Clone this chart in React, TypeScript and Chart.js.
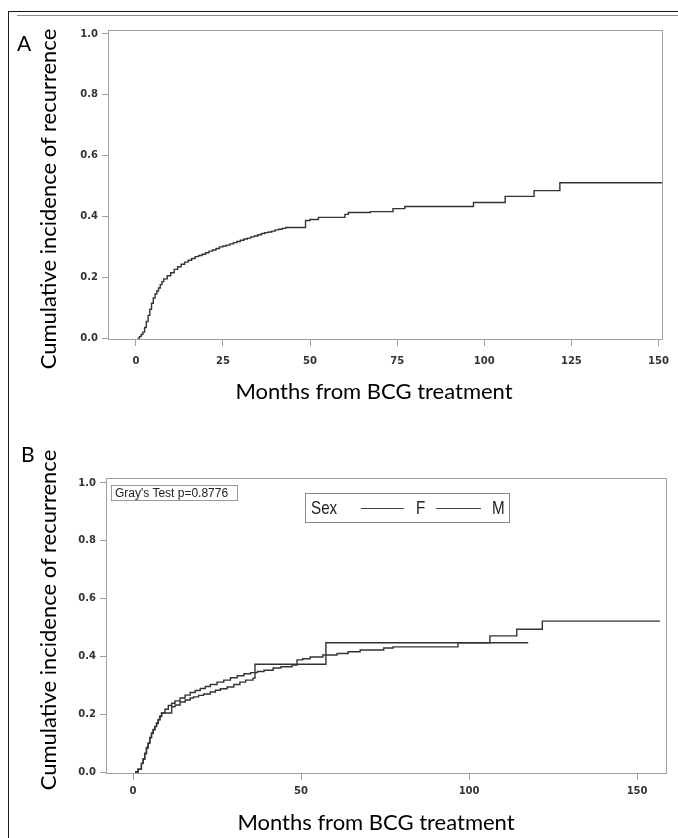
import React, { useEffect, useRef } from "react";
import { Chart, registerables } from "chart.js";

Chart.register(...registerables);

// ---------- data ----------
const yTickValues = [0, 0.2, 0.4, 0.6, 0.8, 1.0];
const panelAXTickValues = [0, 25, 50, 75, 100, 125, 150];
const panelBXTickValues = [0, 50, 100, 150];

const yAxisTitle = "Cumulative incidence of recurrence";
const xAxisTitle = "Months from BCG treatment";
const grayTestLabel = "Gray's Test p=0.8776";
const legendTitle = "Sex";
const seriesNames = ["F", "M"];

// Panel A: all patients
const allMonths = [0.5, 1, 1.5, 2, 2.5, 3, 3.5, 4, 4.5, 5, 5.5, 6, 6.5, 7, 7.5, 8, 9, 10, 11, 12, 13, 14, 15, 16, 17, 18, 19, 20, 21, 22, 23, 24, 25, 26, 27, 28, 29, 30, 31, 32, 33, 34, 35, 36, 37, 38, 39, 40, 41, 42, 43, 48.7, 50, 52.4, 60, 61, 67.3, 73.8, 77.2, 96.9, 106, 114.3, 121.7, 151];
const allCif = [0, 0.005, 0.012, 0.02, 0.035, 0.055, 0.075, 0.095, 0.115, 0.132, 0.145, 0.155, 0.165, 0.176, 0.186, 0.195, 0.205, 0.215, 0.226, 0.235, 0.243, 0.25, 0.256, 0.262, 0.268, 0.272, 0.276, 0.281, 0.286, 0.29, 0.295, 0.3, 0.303, 0.306, 0.31, 0.314, 0.318, 0.322, 0.326, 0.329, 0.333, 0.336, 0.34, 0.344, 0.347, 0.349, 0.352, 0.356, 0.358, 0.361, 0.364, 0.387, 0.39, 0.397, 0.407, 0.413, 0.416, 0.426, 0.433, 0.446, 0.466, 0.485, 0.511, 0.511];

// Panel B: by sex
const femaleMonths = [0.6, 1.5, 2.5, 3, 3.5, 4, 4.5, 5, 5.5, 6, 6.5, 7, 7.5, 8, 8.5, 11.5, 12.5, 14, 15.5, 17, 18, 19.5, 21, 23, 24.5, 26, 28, 30, 31.8, 33.5, 35.7, 36.3, 57.4, 117.6];
const femaleCif = [0, 0.01, 0.03, 0.045, 0.065, 0.085, 0.1, 0.12, 0.135, 0.147, 0.158, 0.17, 0.182, 0.194, 0.204, 0.226, 0.232, 0.242, 0.249, 0.256, 0.26, 0.265, 0.27, 0.277, 0.283, 0.288, 0.294, 0.303, 0.311, 0.318, 0.325, 0.373, 0.447, 0.447];

const maleMonths = [0.6, 1.5, 2.5, 3, 3.5, 4, 4.5, 5, 5.5, 6, 6.5, 7, 7.5, 8, 8.5, 9.5, 10.5, 11.5, 12.5, 14, 15.5, 17, 18.5, 20, 21.5, 23, 25, 27, 29, 31, 33, 35, 37, 39, 41.7, 44, 47.3, 48.8, 50.5, 52.7, 56.5, 60.7, 64, 67.6, 74.6, 77.4, 96.7, 106.2, 114.2, 121.8, 156.8];
const maleCif = [0, 0.01, 0.03, 0.045, 0.063, 0.083, 0.1, 0.118, 0.133, 0.146, 0.157, 0.168, 0.18, 0.192, 0.204, 0.217, 0.23, 0.238, 0.246, 0.256, 0.266, 0.275, 0.282, 0.289, 0.296, 0.303, 0.311, 0.318, 0.326, 0.333, 0.34, 0.344, 0.348, 0.352, 0.36, 0.364, 0.37, 0.388, 0.392, 0.398, 0.405, 0.41, 0.416, 0.422, 0.429, 0.433, 0.447, 0.471, 0.494, 0.522, 0.522];

// ---------- styling ----------
const LINE_COLOR = "#333333";
const AXIS_COLOR = "#a0a0a0";
const TICK_FONT = { family: "'DejaVu Sans', sans-serif", size: 10, weight: "bold" as const };
const TITLE_FONT = "Lato, 'Open Sans', sans-serif";
const NARROW_FONT = "'Liberation Sans Narrow', 'Liberation Sans', Arial, sans-serif";

const boxPlugin = {
  id: "plotBox",
  afterDatasetsDraw(chart: any) {
    const { ctx, chartArea } = chart;
    const l = Math.round(chartArea.left);
    const t = Math.round(chartArea.top);
    const r = Math.round(chartArea.right);
    const b = Math.round(chartArea.bottom);
    ctx.save();
    ctx.strokeStyle = AXIS_COLOR;
    ctx.lineWidth = 1;
    ctx.strokeRect(l + 0.5, t + 0.5, r - l - 1, b - t - 1);
    ctx.restore();
  },
};

function toPoints(xs: number[], ys: number[]) {
  return xs.map((x, i) => ({ x, y: ys[i] }));
}

type PanelSpec = {
  datasets: { label: string; xs: number[]; ys: number[] }[];
  xTicks: number[];
  xMin: number;
  xMax: number;
  yMin: number;
  yMax: number;
  padTop: number;
  padRight: number;
  padBottom: number;
  yAxisWidth: number;
  xAxisHeight: number;
  xLabelPad: number;
};

function buildConfig(spec: PanelSpec): any {
  return {
    type: "line",
    data: {
      datasets: spec.datasets.map((d) => ({
        label: d.label,
        data: toPoints(d.xs, d.ys),
        borderColor: LINE_COLOR,
        borderWidth: 1.4,
        pointRadius: 0,
        stepped: "before",
        fill: false,
      })),
    },
    options: {
      animation: false,
      responsive: false,
      devicePixelRatio: 1,
      events: [],
      layout: {
        autoPadding: false,
        padding: { left: 0, top: spec.padTop, right: spec.padRight, bottom: spec.padBottom },
      },
      plugins: { legend: { display: false }, tooltip: { enabled: false }, title: { display: false } },
      scales: {
        x: {
          type: "linear",
          min: spec.xMin,
          max: spec.xMax,
          afterBuildTicks: (axis: any) => {
            axis.ticks = spec.xTicks.map((v) => ({ value: v }));
          },
          afterFit: (axis: any) => {
            axis.height = spec.xAxisHeight;
          },
          border: { display: false },
          grid: { drawOnChartArea: false, drawTicks: true, tickLength: 6, color: AXIS_COLOR, lineWidth: 1 },
          ticks: {
            autoSkip: false,
            maxRotation: 0,
            padding: spec.xLabelPad,
            color: "#333",
            font: TICK_FONT,
            callback: (v: any) => String(v),
          },
        },
        y: {
          type: "linear",
          min: spec.yMin,
          max: spec.yMax,
          afterBuildTicks: (axis: any) => {
            axis.ticks = yTickValues.map((v) => ({ value: v }));
          },
          afterFit: (axis: any) => {
            axis.width = spec.yAxisWidth;
          },
          border: { display: false },
          grid: { drawOnChartArea: false, drawTicks: true, tickLength: 6, color: AXIS_COLOR, lineWidth: 1 },
          ticks: {
            autoSkip: false,
            padding: 4,
            color: "#333",
            font: TICK_FONT,
            callback: (v: any) => Number(v).toFixed(1),
          },
        },
      },
    },
    plugins: [boxPlugin],
  };
}

function ChartCanvas(props: { left: number; top: number; width: number; height: number; spec: PanelSpec }) {
  const ref = useRef<HTMLCanvasElement>(null);
  useEffect(() => {
    if (!ref.current) return;
    const chart = new Chart(ref.current, buildConfig(props.spec));
    return () => chart.destroy();
  }, []);
  return (
    <canvas
      ref={ref}
      width={props.width}
      height={props.height}
      style={{ position: "absolute", left: props.left, top: props.top, width: props.width, height: props.height }}
    />
  );
}

const panelA: PanelSpec = {
  datasets: [{ label: "All", xs: allMonths, ys: allCif }],
  xTicks: panelAXTickValues,
  xMin: -8,
  xMax: 151.4,
  yMin: -0.006,
  yMax: 1.013,
  padTop: 9,
  padRight: 11,
  padBottom: 10,
  yAxisWidth: 100,
  xAxisHeight: 60,
  xLabelPad: 9,
};

const panelB: PanelSpec = {
  datasets: [
    { label: seriesNames[0], xs: femaleMonths, ys: femaleCif },
    { label: seriesNames[1], xs: maleMonths, ys: maleCif },
  ],
  xTicks: panelBXTickValues,
  xMin: -8.04,
  xMax: 158.9,
  yMin: -0.0069,
  yMax: 1.0173,
  padTop: 48,
  padRight: 11,
  padBottom: 14,
  yAxisWidth: 98,
  xAxisHeight: 50,
  xLabelPad: 5,
};

function CenteredText(props: { x: number; y: number; text: string; size: number; rotate?: boolean }) {
  return (
    <div
      style={{
        position: "absolute",
        left: props.x,
        top: props.y,
        transform: `translate(-50%, -50%)${props.rotate ? " rotate(-90deg)" : ""}`,
        whiteSpace: "nowrap",
        fontFamily: TITLE_FONT,
        fontSize: props.size,
        lineHeight: 1,
        color: "#000",
      }}
    >
      {props.text}
    </div>
  );
}

function LegendItem(props: { left: number; text: string }) {
  return (
    <span
      style={{
        position: "absolute",
        left: props.left,
        top: 0,
        lineHeight: "28px",
        transform: "scaleX(0.8)",
        transformOrigin: "left center",
      }}
    >
      {props.text}
    </span>
  );
}

function LegendLine(props: { left: number; width: number }) {
  return (
    <span
      style={{
        position: "absolute",
        left: props.left,
        top: 14,
        width: props.width,
        height: 0,
        borderTop: "1px solid #444",
      }}
    />
  );
}

export default function App() {
  return (
    <div
      style={{
        position: "fixed",
        left: 0,
        top: 0,
        width: 678,
        height: 838,
        overflow: "hidden",
        background: "#fff",
      }}
    >
      {/* outer frame */}
      <div style={{ position: "absolute", left: 8, top: 11, width: 670, height: 1, background: "#1a1a1a" }} />
      <div style={{ position: "absolute", left: 8, top: 11, width: 1, height: 827, background: "#1a1a1a" }} />
      <div style={{ position: "absolute", left: 17, top: 15, width: 661, height: 1, background: "#8c8c8c" }} />

      <ChartCanvas left={8} top={20} width={670} height={390} spec={panelA} />
      <ChartCanvas left={8} top={430} width={670} height={408} spec={panelB} />

      {/* panel letters */}
      <div style={{ position: "absolute", left: 17, top: 32, fontFamily: TITLE_FONT, fontSize: 21, lineHeight: "21px", color: "#000" }}>A</div>
      <div style={{ position: "absolute", left: 21, top: 443, fontFamily: TITLE_FONT, fontSize: 21, lineHeight: "21px", color: "#000" }}>B</div>

      {/* axis titles */}
      <CenteredText x={48} y={199} text={yAxisTitle} size={22} rotate />
      <CenteredText x={374} y={391} text={xAxisTitle} size={22} />
      <CenteredText x={48} y={620} text={yAxisTitle} size={22} rotate />
      <CenteredText x={376} y={822} text={xAxisTitle} size={22} />

      {/* Gray's test box */}
      <div
        style={{
          position: "absolute",
          left: 111,
          top: 485,
          padding: "0 9px 0 3px",
          border: "1px solid #999",
          fontFamily: "'Liberation Sans', Arial, sans-serif",
          fontSize: 12,
          lineHeight: "14px",
          color: "#222",
          whiteSpace: "nowrap",
        }}
      >
        {grayTestLabel}
      </div>

      {/* legend */}
      <div
        style={{
          position: "absolute",
          left: 305,
          top: 493,
          width: 205,
          height: 30,
          boxSizing: "border-box",
          border: "1px solid #888",
          fontFamily: NARROW_FONT,
          fontSize: 19,
          color: "#222",
          whiteSpace: "nowrap",
        }}
      >
        <LegendItem left={5} text={legendTitle} />
        <LegendLine left={55} width={43} />
        <LegendItem left={110} text={seriesNames[0]} />
        <LegendLine left={130} width={45} />
        <LegendItem left={186} text={seriesNames[1]} />
      </div>
    </div>
  );
}
